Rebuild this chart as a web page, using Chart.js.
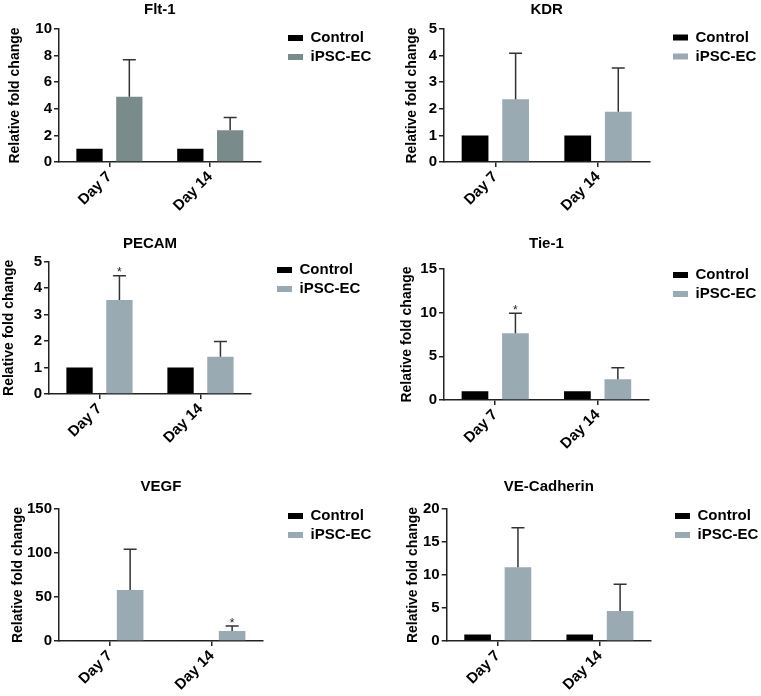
<!DOCTYPE html>
<html>
<head>
<meta charset="utf-8">
<script src="https://cdn.jsdelivr.net/npm/chart.js@4.4.0/dist/chart.umd.min.js"></script>
<style>
  html, body { margin: 0; padding: 0; background: #fff; }
  #wrap { position: relative; width: 761px; height: 696px; }
  canvas { position: absolute; }
</style>
</head>
<body>
<div id="wrap">
  <canvas id="flt" width="380" height="230" style="left:0;top:0"></canvas>
  <canvas id="kdr" width="381" height="230" style="left:380px;top:0"></canvas>
  <canvas id="pecam" width="380" height="230" style="left:0;top:230px"></canvas>
  <canvas id="tie" width="381" height="230" style="left:380px;top:230px"></canvas>
  <canvas id="vegf" width="380" height="236" style="left:0;top:460px"></canvas>
  <canvas id="vecad" width="381" height="236" style="left:380px;top:460px"></canvas>
</div>
<script>
// categories and series
const days = ['Day 7', 'Day 14'];
const seriesNames = ['Control', 'iPSC-EC'];

// values (control normalised to 1, iPSC-EC mean + upper SD)
const fltControl = [1, 1];
const fltIpsc = [4.91, 2.39];
const fltErr = [2.77, 0.96];
const fltSig = [false, false];

const kdrControl = [1, 1];
const kdrIpsc = [2.36, 1.89];
const kdrErr = [1.73, 1.64];
const kdrSig = [false, false];

const pecamControl = [1, 1];
const pecamIpsc = [3.55, 1.41];
const pecamErr = [0.92, 0.57];
const pecamSig = [true, false];

const tieControl = [1, 1];
const tieIpsc = [7.63, 2.38];
const tieErr = [2.29, 1.32];
const tieSig = [true, false];

const vegfControl = [1, 1];
const vegfIpsc = [57.9, 11.4];
const vegfErr = [46.3, 5.6];
const vegfSig = [false, true];

const vecadControl = [1, 1];
const vecadIpsc = [11.16, 4.55];
const vecadErr = [6.0, 4.04];
const vecadSig = [false, false];

// y axis ticks: [max, step]
const fltTicks = [10, 2];
const kdrTicks = [5, 1];
const pecamTicks = [5, 1];
const tieTicks = [15, 5];
const vegfTicks = [150, 50];
const vecadTicks = [20, 5];

const panels = [
  { id: 'flt', title: 'Flt-1', control: fltControl, ipsc: fltIpsc, err: fltErr, sig: fltSig, ticks: fltTicks },
  { id: 'kdr', title: 'KDR', control: kdrControl, ipsc: kdrIpsc, err: kdrErr, sig: kdrSig, ticks: kdrTicks },
  { id: 'pecam', title: 'PECAM', control: pecamControl, ipsc: pecamIpsc, err: pecamErr, sig: pecamSig, ticks: pecamTicks },
  { id: 'tie', title: 'Tie-1', control: tieControl, ipsc: tieIpsc, err: tieErr, sig: tieSig, ticks: tieTicks },
  { id: 'vegf', title: 'VEGF', control: vegfControl, ipsc: vegfIpsc, err: vegfErr, sig: vegfSig, ticks: vegfTicks },
  { id: 'vecad', title: 'VE-Cadherin', control: vecadControl, ipsc: vecadIpsc, err: vecadErr, sig: vecadSig, ticks: vecadTicks }
];

// plot box of each panel inside its canvas
const layouts = {
  flt:   { left: 59, top: 29, bottom: 162, right: 258, titleY: 9.8, axisTitleX: 15, legendX: 288, legendY: 38, color: '#7a8b8b' },
  kdr:   { left: 64, top: 29, bottom: 162, right: 264, titleY: 9.8, axisTitleX: 31.7, legendX: 293, legendY: 37.5, color: '#9aaab2' },
  pecam: { left: 49, top: 31.7, bottom: 164, right: 247, titleY: 13.5, axisTitleX: 9.3, legendX: 277, legendY: 40, color: '#9aaab2' },
  tie:   { left: 64, top: 39, bottom: 170, right: 265, titleY: 13.5, axisTitleX: 26.7, legendX: 293, legendY: 45, color: '#9aaab2' },
  vegf:  { left: 59, top: 49, bottom: 181, right: 260, titleY: 27, axisTitleX: 18.3, legendX: 288, legendY: 56, color: '#9aaab2' },
  vecad: { left: 66.7, top: 49, bottom: 181, right: 265.7, titleY: 27, axisTitleX: 33.3, legendX: 295, legendY: 56, color: '#9aaab2' }
};

const FONT = "'Liberation Sans', Arial, Helvetica, sans-serif";
Chart.defaults.font.family = FONT;
Chart.defaults.color = '#000';

// error bars (upper only) and significance stars
const errorBars = {
  id: 'errorBars',
  afterDatasetsDraw(chart) {
    const ctx = chart.ctx;
    const yScale = chart.scales.y;
    chart.data.datasets.forEach((ds, d) => {
      const meta = chart.getDatasetMeta(d);
      meta.data.forEach((bar, i) => {
        const e = ds.errors ? ds.errors[i] : 0;
        if (!e) return;
        const top = yScale.getPixelForValue(ds.data[i] + e);
        ctx.save();
        ctx.strokeStyle = '#333';
        ctx.lineWidth = 1.5;
        ctx.beginPath();
        ctx.moveTo(bar.x, bar.y);
        ctx.lineTo(bar.x, top);
        ctx.moveTo(bar.x - 6.5, top);
        ctx.lineTo(bar.x + 6.5, top);
        ctx.stroke();
        if (ds.sig && ds.sig[i]) {
          ctx.fillStyle = '#222';
          ctx.font = '12px ' + FONT;
          ctx.textAlign = 'center';
          ctx.textBaseline = 'alphabetic';
          ctx.fillText('*', bar.x, top + 0.5);
        }
        ctx.restore();
      });
    });
  }
};

// move the legend to where it sits in the figure
const legendShift = {
  id: 'legendShift',
  afterLayout(chart, args, opts) {
    const lg = chart.legend;
    if (!lg) return;
    const dx = (opts.x - 4) - lg.left;
    const dy = (opts.y - 11.5) - lg.top;
    lg.left += dx;
    lg.right = chart.width;   // room for the labels, the legend clips to its box
    lg.top += dy;
    lg.bottom += dy;
  }
};

const measure = document.createElement('canvas').getContext('2d');
measure.font = 'bold 15px ' + FONT;
const legendTextW = Math.max(...seriesNames.map(s => measure.measureText(s).width));
const legendW = 4 + 15 + 7.5 + legendTextW;

panels.forEach(p => {
  const L = layouts[p.id];
  const canvas = document.getElementById(p.id);
  const W = canvas.width, H = canvas.height;
  const padLeft = L.axisTitleX - 8.4;

  new Chart(canvas, {
    type: 'bar',
    data: {
      labels: days,
      datasets: [
        { label: seriesNames[0], data: p.control, backgroundColor: '#000', borderWidth: 0 },
        { label: seriesNames[1], data: p.ipsc, backgroundColor: L.color, borderWidth: 0, errors: p.err, sig: p.sig }
      ]
    },
    options: {
      responsive: false,
      animation: false,
      events: [],
      layout: { padding: { left: padLeft, top: 0, bottom: 0, right: W - L.right - legendW } },
      datasets: { bar: { categoryPercentage: 0.79, barPercentage: 0.66 } },
      scales: {
        x: {
          offset: true,
          grid: { offset: false, drawOnChartArea: false, tickLength: 5, color: '#222', lineWidth: 1.5 },
          border: { color: '#222', width: 1.5 },
          ticks: { minRotation: 45, maxRotation: 45, padding: 1, color: '#000', font: { size: 15, weight: 'bold' } },
          afterFit: s => { s.height = H - L.bottom; }
        },
        y: {
          min: 0,
          max: p.ticks[0],
          grid: { drawOnChartArea: false, tickLength: 5, color: '#222', lineWidth: 1.5 },
          border: { color: '#222', width: 1.5 },
          ticks: { stepSize: p.ticks[1], padding: 2, color: '#000', font: { size: 15, weight: 'bold' } },
          title: { display: true, text: 'Relative fold change', padding: 0, color: '#000', font: { size: 14, weight: 'bold' } },
          afterFit: s => { s.width = L.left - padLeft; }
        }
      },
      plugins: {
        title: {
          display: true,
          text: p.title,
          fullSize: false,
          color: '#000',
          padding: { top: L.titleY - 9, bottom: L.top - L.titleY - 9 },
          font: { size: 15, weight: 'bold' }
        },
        legend: {
          position: 'right',
          align: 'start',
          fullSize: false,
          labels: { boxWidth: 15, boxHeight: 6, padding: 4, color: '#000', font: { size: 15, weight: 'bold' } }
        },
        tooltip: { enabled: false },
        legendShift: { x: L.legendX, y: L.legendY }
      }
    },
    plugins: [errorBars, legendShift]
  });
});
</script>
</body>
</html>
